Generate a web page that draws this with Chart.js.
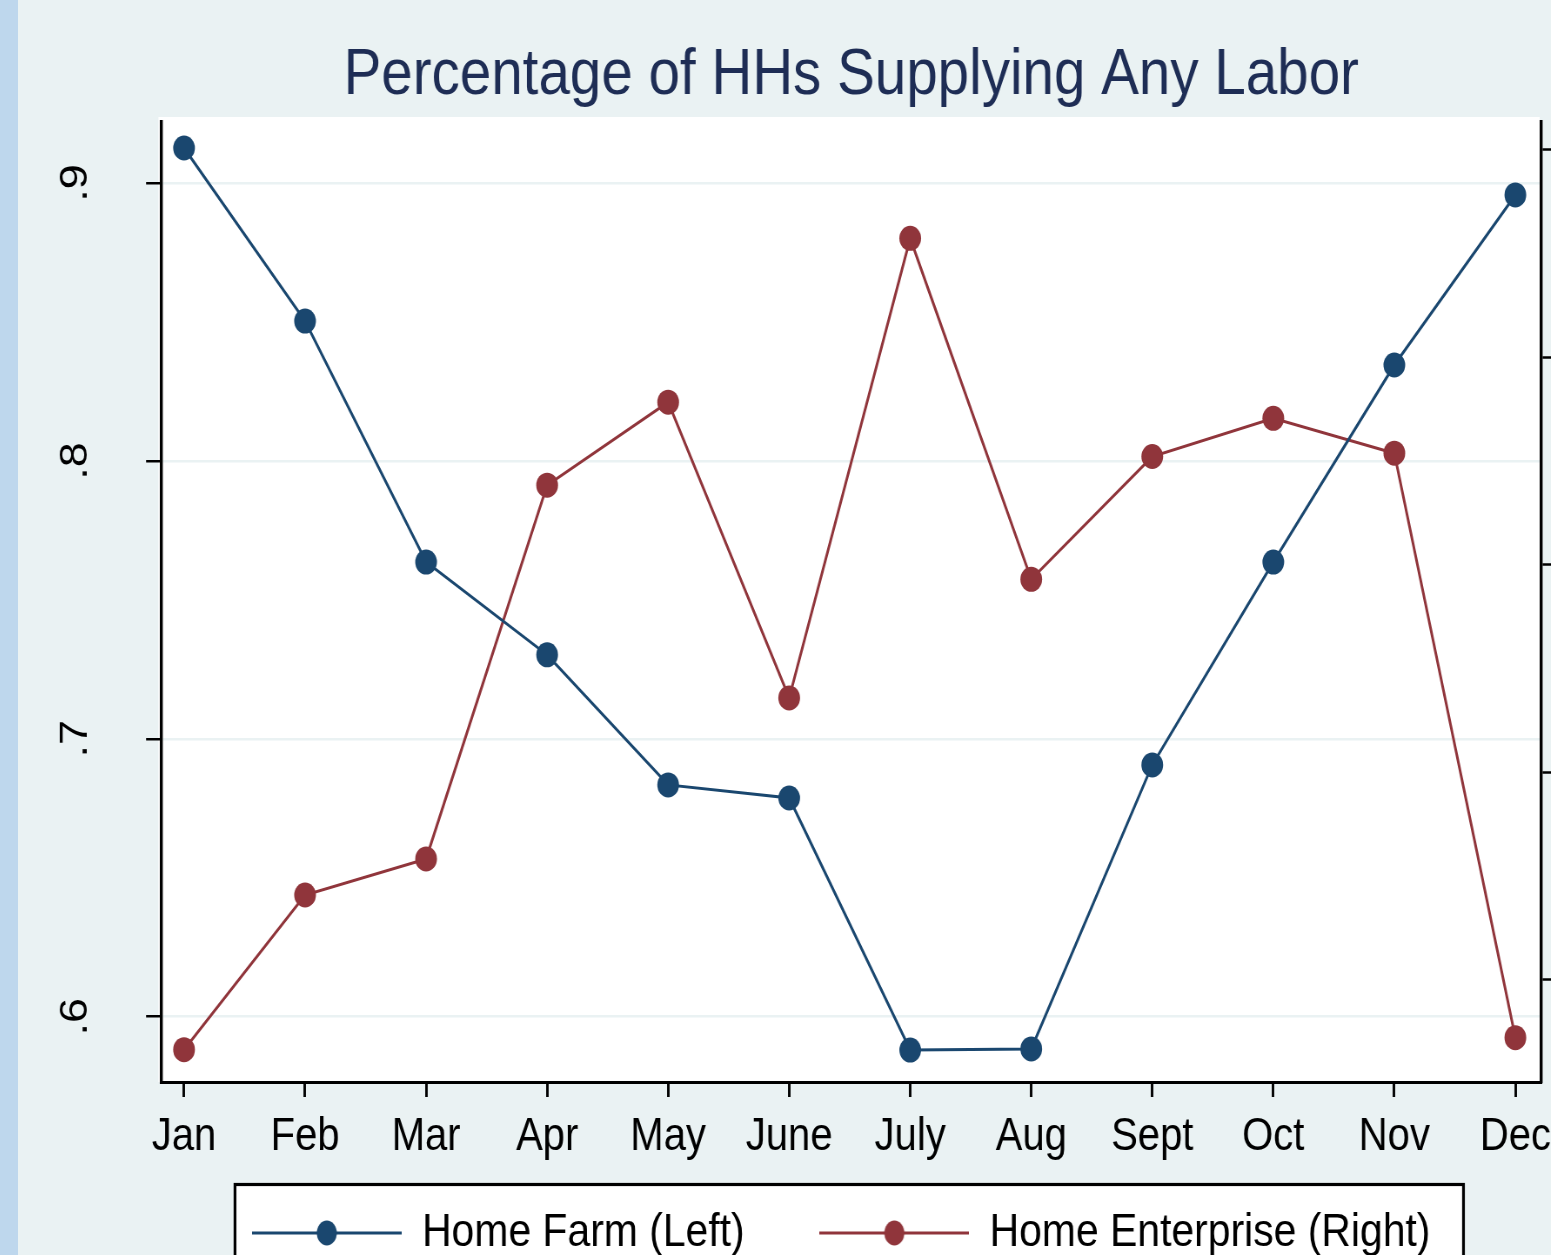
<!DOCTYPE html>
<html>
<head>
<meta charset="utf-8">
<title>Percentage of HHs Supplying Any Labor</title>
<script src="https://cdn.jsdelivr.net/npm/chart.js@4.4.1/dist/chart.umd.min.js"></script>
<style>
  html, body { margin: 0; padding: 0; }
  body { width: 1551px; height: 1255px; overflow: hidden; background: #eaf2f3; position: relative; }
  #strip { position: absolute; left: 0; top: 0; width: 18px; height: 100%; background: #bed7ed; z-index: 2; }
  /* the Stata export is horizontally condensed, so the canvas is squeezed the same way */
  #wrap { position: absolute; left: 18px; top: 0; width: 1811px; height: 1312px;
          transform: scaleX(0.87); transform-origin: 0 0; }
</style>
</head>
<body>
<div id="strip"></div>
<div id="wrap"><canvas id="chart"></canvas></div>
<script>
// data
const months = ['Jan', 'Feb', 'Mar', 'Apr', 'May', 'June', 'July', 'Aug', 'Sept', 'Oct', 'Nov', 'Dec'];
const homeFarm = [0.9126, 0.8503, 0.7636, 0.7302, 0.6834, 0.6787, 0.5880, 0.5884, 0.6906, 0.7636, 0.8345, 0.8957];
const homeEnterprise = [0.1331, 0.1704, 0.1791, 0.2692, 0.2892, 0.2179, 0.3287, 0.2465, 0.2761, 0.2853, 0.2769, 0.1360];
const leftTicks = [0.6, 0.7, 0.8, 0.9];
// right axis labels are cut off in the picture, only the marks show
const rightTicks = [0.15, 0.2, 0.25, 0.3, 0.35];

const farmColor = '#1a476f';
const enterpriseColor = '#90353b';
const LEGEND_PAD = 86;
const LEGEND_FONT = 47;
const LEGEND_ROW_Y = 1233;
const LEGEND_NUDGE_X = -11.5;

Chart.defaults.font.family = '"Liberation Sans", Arial, Helvetica, sans-serif';
Chart.defaults.color = '#000';

function legendIcon(color) {
    const c = document.createElement('canvas');
    c.width = 172;
    c.height = 28;
    const g = c.getContext('2d');
    g.strokeStyle = color;
    g.lineWidth = 3;
    g.beginPath();
    g.moveTo(0, 14);
    g.lineTo(172, 14);
    g.stroke();
    g.fillStyle = color;
    g.beginPath();
    g.ellipse(86, 14, 11.5, 12.5, 0, 0, Math.PI * 2);
    g.fill();
    return c;
}

// white plot region + framed legend box, like the Stata graph
const backdrop = {
    id: 'backdrop',
    afterLayout(chart) {
        // pull the legend row up under the month labels
        const lg = chart.legend;
        const shift = lg.top - (LEGEND_ROW_Y - LEGEND_PAD - LEGEND_FONT / 2);
        lg.top -= shift;
        lg.bottom -= shift;
        lg.left += LEGEND_NUDGE_X;
        lg.right += LEGEND_NUDGE_X;
    },
    beforeDraw(chart) {
        const {ctx, chartArea: a} = chart;
        ctx.save();
        ctx.fillStyle = '#fff';
        ctx.fillRect(a.left - 3, a.top - 5, a.right - a.left + 1, a.bottom - a.top + 5);
        const boxes = chart.legend ? chart.legend.legendHitBoxes : [];
        if (boxes.length) {
            const left = Math.min(...boxes.map(b => b.left)) - 19.5;
            const right = Math.max(...boxes.map(b => b.left + b.width)) + 38;
            const top = boxes[0].top - 25;
            const bottom = boxes[0].top + boxes[0].height + 25;
            ctx.fillRect(left, top, right - left, bottom - top);
            ctx.lineWidth = 3.2;
            ctx.strokeStyle = '#000';
            ctx.strokeRect(left, top, right - left, bottom - top);
        }
        ctx.restore();
    }
};

const ctx = document.getElementById('chart').getContext('2d');
new Chart(ctx, {
    type: 'line',
    data: {
        datasets: [
            {
                label: 'Home Farm (Left)',
                data: homeFarm.map((v, i) => ({x: i, y: v})),
                yAxisID: 'y',
                borderColor: farmColor,
                backgroundColor: farmColor,
                borderWidth: 3,
                pointRadius: 12.5,
                pointBorderWidth: 0,
                tension: 0,
            },
            {
                label: 'Home Enterprise (Right)',
                data: homeEnterprise.map((v, i) => ({x: i, y: v})),
                yAxisID: 'y1',
                borderColor: enterpriseColor,
                backgroundColor: enterpriseColor,
                borderWidth: 3,
                pointRadius: 12.5,
                pointBorderWidth: 0,
                tension: 0,
            },
        ],
    },
    options: {
        responsive: true,
        maintainAspectRatio: false,
        animation: false,
        events: [],
        layout: { padding: 0 },
        plugins: {
            tooltip: { enabled: false },
            title: {
                display: true,
                text: 'Percentage of HHs Supplying Any Labor',
                fullSize: false,
                color: '#1e2d55',
                font: { size: 65, weight: 'normal', lineHeight: 1 },
                padding: { top: 44, bottom: 13 },
            },
            legend: {
                position: 'bottom',
                fullSize: false,
                maxHeight: 140,
                labels: {
                    usePointStyle: true,
                    pointStyleWidth: 172,
                    padding: LEGEND_PAD,
                    color: '#000',
                    font: { size: LEGEND_FONT },
                    generateLabels(chart) {
                        const items = Chart.defaults.plugins.legend.labels.generateLabels(chart);
                        const cols = [farmColor, enterpriseColor];
                        items.forEach((it, i) => {
                            it.pointStyle = legendIcon(cols[i]);
                            it.fontColor = '#000';
                        });
                        return items;
                    },
                },
            },
        },
        scales: {
            x: {
                type: 'linear',
                min: -0.19,
                max: 11.215,
                afterBuildTicks: s => { s.ticks = months.map((m, i) => ({value: i})); },
                afterFit: s => { s.height = 90; },
                ticks: {
                    callback: v => months[v],
                    font: { size: 46, lineHeight: 1 },
                    padding: 17,
                    maxRotation: 0,
                    autoSkip: false,
                    color: '#000',
                },
                grid: { drawOnChartArea: false, tickLength: 15, tickColor: '#000', tickWidth: 2.9 },
                border: { color: '#000', width: 3 },
            },
            y: {
                position: 'left',
                min: 0.5765,
                max: 0.92195,
                afterBuildTicks: s => { s.ticks = leftTicks.map(v => ({value: v})); },
                afterFit: s => { s.width = 164.4; },
                ticks: {
                    callback: v => String(v).replace(/^0/, ''),
                    font: { size: 45 },
                    padding: 62,
                    minRotation: 90,
                    maxRotation: 90,
                    crossAlign: 'center',
                    color: '#000',
                },
                grid: { color: '#eaf2f3', lineWidth: 2.5, tickLength: 17.2, tickColor: '#000', tickWidth: 2.5 },
                border: { color: '#000', width: 3.4 },
            },
            y1: {
                position: 'right',
                min: 0.12531,
                max: 0.35675,
                afterBuildTicks: s => { s.ticks = rightTicks.map(v => ({value: v})); },
                afterFit: s => { s.width = 60; },
                ticks: { display: false },
                grid: { drawOnChartArea: false, tickLength: 14, tickColor: '#000', tickWidth: 2.5 },
                border: { color: '#000', width: 3.4 },
            },
        },
    },
    plugins: [backdrop],
});
</script>
</body>
</html>
